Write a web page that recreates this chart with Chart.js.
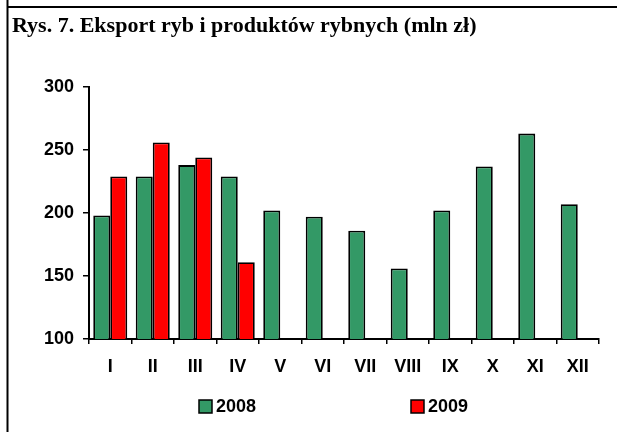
<!DOCTYPE html>
<html>
<head>
<meta charset="utf-8">
<script src="https://cdn.jsdelivr.net/npm/chart.js@4/dist/chart.umd.min.js"></script>
<style>
  html, body { margin: 0; padding: 0; background: #fff; }
  #wrap { width: 617px; height: 432px; position: relative; }
</style>
</head>
<body>
<div id="wrap"><canvas id="c"></canvas></div>
<script>
// Monthly fish export (mln zł)
const months = ['I', 'II', 'III', 'IV', 'V', 'VI', 'VII', 'VIII', 'IX', 'X', 'XI', 'XII'];
const export2008 = [198, 229, 238, 229, 202, 197, 186, 156, 202, 237, 263, 207];
const export2009 = [229, 256, 244, 161, null, null, null, null, null, null, null, null];
const seriesNames = ['2008', '2009'];
const yTicks = [100, 150, 200, 250, 300];
const titleText = 'Rys. 7. Eksport ryb i produktów rybnych (mln zł)';

const tickFont = { family: 'Liberation Sans, Arial, sans-serif', weight: 'bold', size: 18 };

// Frame lines: left rule and top rule
const framePlugin = {
  id: 'frame',
  beforeDraw(chart) {
    const ctx = chart.ctx;
    ctx.save();
    ctx.strokeStyle = '#000';
    ctx.lineWidth = 2;
    ctx.beginPath();
    ctx.moveTo(7.5, 0);
    ctx.lineTo(7.5, chart.height);
    ctx.moveTo(6.5, 7);
    ctx.lineTo(chart.width, 7);
    ctx.stroke();
    ctx.restore();
  }
};

// Legend drawn beneath the axis labels
const legendPlugin = {
  id: 'yearLegend',
  afterDraw(chart) {
    const ctx = chart.ctx;
    const left = chart.chartArea.left;
    const offsets = [110, 322];
    const yMid = 407;
    ctx.save();
    chart.data.datasets.forEach((ds, i) => {
      const x = left + offsets[i];
      ctx.fillStyle = ds.backgroundColor;
      ctx.fillRect(x, yMid - 7, 13, 13);
      ctx.strokeStyle = '#000';
      ctx.lineWidth = 1.5;
      ctx.strokeRect(x, yMid - 7, 13, 13);
      ctx.fillStyle = '#000';
      ctx.font = 'bold 18px "Liberation Sans", Arial, sans-serif';
      ctx.textBaseline = 'middle';
      ctx.textAlign = 'left';
      ctx.fillText(ds.label, x + 17, yMid + 0.5);
    });
    ctx.restore();
  }
};

new Chart(document.getElementById('c'), {
  type: 'bar',
  data: {
    labels: months,
    datasets: [
      {
        label: seriesNames[0],
        data: export2008,
        backgroundColor: '#339966',
        borderColor: '#000',
        borderWidth: 1.8,
        categoryPercentage: 0.8,
        barPercentage: 1.0
      },
      {
        label: seriesNames[1],
        data: export2009,
        backgroundColor: '#ff0000',
        borderColor: '#000',
        borderWidth: 1.8,
        categoryPercentage: 0.8,
        barPercentage: 1.0
      }
    ]
  },
  options: {
    responsive: true,
    maintainAspectRatio: false,
    animation: false,
    devicePixelRatio: 1,
    layout: { padding: { left: 12, right: 18, top: 0, bottom: 0 } },
    plugins: {
      legend: { display: false },
      tooltip: { enabled: false },
      title: {
        display: true,
        text: titleText,
        align: 'start',
        color: '#000',
        font: { family: 'Liberation Serif, Times New Roman, serif', weight: 'bold', size: 22 },
        padding: { top: 13, bottom: 47.6 }
      }
    },
    scales: {
      x: {
        grid: { offset: true, drawOnChartArea: false, drawTicks: true, tickLength: 5, color: '#000', lineWidth: 1.5 },
        border: { display: true, color: '#000', width: 2 },
        ticks: { color: '#000', font: tickFont, padding: 12, maxRotation: 0 },
        afterFit(scale) { scale.height = 93; }
      },
      y: {
        min: yTicks[0],
        max: yTicks[yTicks.length - 1],
        afterBuildTicks(scale) { scale.ticks = yTicks.map(v => ({ value: v })); },
        grid: { drawOnChartArea: false, drawTicks: true, tickLength: 6, color: '#000', lineWidth: 1.5 },
        border: { display: true, color: '#000', width: 2 },
        ticks: { color: '#000', font: tickFont, padding: 9 },
        afterFit(scale) { scale.width = 77; }
      }
    }
  },
  plugins: [framePlugin, legendPlugin]
});
</script>
</body>
</html>
